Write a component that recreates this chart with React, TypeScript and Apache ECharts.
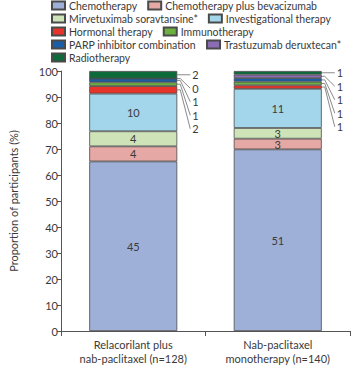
import React, { useEffect, useRef } from "react";
import * as echarts from "echarts";

const categories = ["Relacorilant plus\nnab-paclitaxel (n=128)", "Nab-paclitaxel\nmonotherapy (n=140)"];
const seriesNames = [
  "Chemotherapy",
  "Chemotherapy plus bevacizumab",
  "Mirvetuximab soravtansine*",
  "Investigational therapy",
  "Hormonal therapy",
  "Immunotherapy",
  "PARP inhibitor combination",
  "Trastuzumab deruxtecan*",
  "Radiotherapy",
];
const colors = ["#9fb0d8", "#e6a8a4", "#cfe3b8", "#a3d6ea", "#e8332a", "#6cb040", "#1b5ea8", "#8b6db3", "#0d6a3a"];
// counts per arm (left arm, right arm)
const chemotherapy = [45, 51];
const chemoBev = [4, 3];
const mirvetuximab = [4, 3];
const investigational = [10, 11];
const hormonal = [2, 1];
const immunotherapy = [1, 1];
const parp = [1, 1];
const trastuzumab = [0, 1];
const radiotherapy = [2, 1];
const yTicks = { min: 0, max: 100, interval: 10 };
const legendRows = [
  ["Chemotherapy", "Chemotherapy plus bevacizumab"],
  ["Mirvetuximab soravtansine*", "Investigational therapy"],
  ["Hormonal therapy", "Immunotherapy"],
  ["PARP inhibitor combination", "Trastuzumab deruxtecan*"],
  ["Radiotherapy"],
];

const counts = [chemotherapy, chemoBev, mirvetuximab, investigational, hormonal, immunotherapy, parp, trastuzumab, radiotherapy];
const totals = categories.map((_, i) => counts.reduce((s, a) => s + a[i], 0));

const FONT = "Lato";
const TEXT = "#3a3a3a";
const BAR_W = 88;

export default function App() {
  const ref = useRef<HTMLDivElement>(null);
  useEffect(() => {
    if (!ref.current) return;
    const chart = echarts.init(ref.current, null, { renderer: "svg" });
    const series = counts.map((arr, si) => ({
      type: "bar",
      name: seriesNames[si],
      stack: "total",
      barWidth: BAR_W,
      data: arr.map((c, i) => ({ value: (c / totals[i]) * 100, count: c })),
      itemStyle: { color: colors[si], borderColor: "#4a4a4a", borderWidth: 0.8 },
      label: {
        show: si < 4,
        position: "inside",
        color: TEXT,
        fontFamily: FONT,
        fontSize: 11,
        formatter: (p: any) => String(p.data.count),
      },
      emphasis: { disabled: true },
    }));
    const rowCenters = [6, 19, 32, 45, 58];
    const legends = legendRows.map((row, ri) => ({
      data: row,
      left: 51,
      top: rowCenters[ri] - 6,
      width: 600,
      orient: "horizontal",
      padding: 0,
      itemWidth: 13,
      itemHeight: 8,
      itemGap: 10,
      icon: "rect",
      textStyle: { fontFamily: FONT, fontSize: 10.5, color: TEXT, padding: [0, 0, 0, -1] },
      selectedMode: false,
    }));
    chart.setOption({
      animation: false,
      textStyle: { fontFamily: FONT },
      legend: legends,
      grid: { left: 42, right: 1, top: 71, bottom: 32, containLabel: false },
      xAxis: {
        type: "category",
        data: categories,
        axisLine: { lineStyle: { color: "#555", width: 1 } },
        axisTick: { show: true, length: 5, lineStyle: { color: "#555" } },
        axisLabel: { color: TEXT, fontFamily: FONT, fontSize: 11, lineHeight: 14, margin: 6 },
      },
      yAxis: {
        type: "value",
        min: yTicks.min,
        max: yTicks.max,
        interval: yTicks.interval,
        name: "Proportion of participants (%)",
        nameLocation: "middle",
        nameGap: 42,
        nameTextStyle: { color: TEXT, fontFamily: FONT, fontSize: 11 },
        axisLine: { show: true, lineStyle: { color: "#555", width: 1 } },
        axisTick: { show: true, length: 4, lineStyle: { color: "#555" } },
        axisLabel: { color: TEXT, fontFamily: FONT, fontSize: 11, margin: 3 },
        splitLine: { show: false },
      },
      series,
    });

    // leader-line labels for small segments
    const graphics: any[] = [];
    categories.forEach((_, ci) => {
      let cum = 0;
      const mids: { y: number; c: number }[] = [];
      counts.forEach((arr, si) => {
        const v = (arr[ci] / totals[ci]) * 100;
        if (si >= 4) {
          const p = chart.convertToPixel({ gridIndex: 0 } as any, [ci, cum + v / 2]) as number[];
          mids.push({ y: p[1], c: arr[ci] });
        }
        cum += v;
      });
      const center = chart.convertToPixel({ gridIndex: 0 } as any, [ci, 0]) as number[];
      const right = center[0] + BAR_W / 2;
      const ordered = mids.slice().reverse();
      const topY = ordered[0].y;
      ordered.forEach((m, k) => {
        const ly = topY + k * 13.5;
        const pts = k === 0
          ? [[right, m.y], [right + 13, ly]]
          : [[right, m.y], [right + 3, m.y], [right + 13, ly]];
        graphics.push({
          type: "polyline",
          shape: { points: pts },
          style: { stroke: "#8a8a8a", lineWidth: 1, fill: null },
          silent: true,
        });
        graphics.push({
          type: "text",
          x: right + 15,
          y: ly,
          style: { text: String(m.c), fill: TEXT, font: `11px ${FONT}`, verticalAlign: "middle", align: "left" },
          silent: true,
        });
      });
    });
    chart.setOption({ graphic: graphics });
    return () => chart.dispose();
  }, []);
  return <div ref={ref} style={{ width: 351, height: 365, position: "absolute", left: 0, top: 0 }} />;
}
